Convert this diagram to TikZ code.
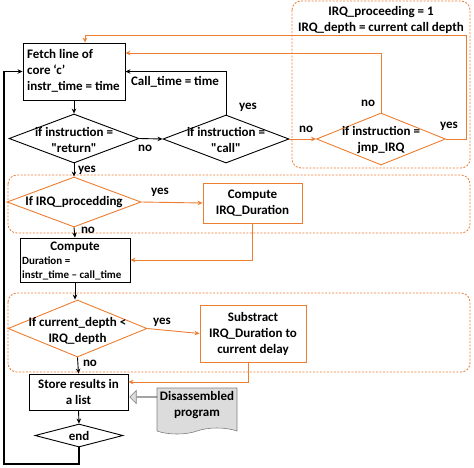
\documentclass[tikz,border=0pt]{standalone}
\usepackage{fontspec}
\setmainfont{Carlito}[Ligatures=TeXOff]
\usetikzlibrary{shapes.geometric,shapes.symbols,shapes.arrows,arrows.meta}
\definecolor{org}{RGB}{237,125,49}
\definecolor{docgray}{RGB}{220,220,220}
\begin{document}
\begin{tikzpicture}[x=1pt,y=-1pt,
  font=\bfseries\fontsize{13}{16}\selectfont,
  box/.style={draw=black, line width=0.9pt, rectangle, inner sep=0pt},
  obox/.style={draw=org, line width=0.9pt, rectangle, inner sep=0pt},
  dia/.style={draw=black, line width=0.9pt, diamond, inner sep=0pt},
  odia/.style={draw=org, line width=0.9pt, diamond, inner sep=0pt},
  txt/.style={align=center, inner sep=0pt},
  lbl/.style={inner sep=0pt},
  blkarr/.style={draw=black, line width=0.9pt, -{Stealth[length=5pt,width=4.5pt]}},
  orgarr/.style={draw=org, line width=0.9pt, -{Stealth[length=5pt,width=4.5pt]}},
  dbox/.style={draw=org, line width=0.8pt, dash pattern=on 2pt off 1.5pt, rounded corners=9pt}]
\useasboundingbox (0,0) rectangle (474,467);

% dashed group boxes
\draw[dbox] (292,1) rectangle (470,168);
\draw[dbox] (8,175) rectangle (470,233);
\draw[dbox] (8,293) rectangle (470,372);

\node[txt] (irqset) at (381,20) {IRQ\_proceeding = 1\\IRQ\_depth = current call depth};

% nodes
\node[box, minimum width=102pt, minimum height=57pt] (fetch) at (74,71.5) {};
\node[anchor=west, align=left, inner sep=0pt] (fetcht) at (27,71) {Fetch line of\\core ‘c’\\instr\_time = time};

\node[dia, minimum width=130pt, minimum height=49pt] (ret) at (74,138.5) {};
\node[txt] (rett) at (74,140) {if instruction =\\"return"};

\node[dia, minimum width=126pt, minimum height=48pt] (call) at (226,139) {};
\node[txt] (callt) at (226,140) {if instruction =\\"call"};

\node[odia, minimum width=129pt, minimum height=52pt] (jmp) at (381,139) {};
\node[txt] (jmpt) at (381,140) {if instruction =\\jmp\_IRQ};

\node[odia, minimum width=134pt, minimum height=50pt] (irqd) at (74,202) {};
\node[txt] (irqdt) at (74,202) {If IRQ\_procedding};

\node[obox, minimum width=99pt, minimum height=40pt] (cirq) at (252.5,203) {};
\node[txt] (cirqt) at (252.5,203) {Compute\\IRQ\_Duration};

\node[box, minimum width=110pt, minimum height=44pt] (comp) at (75,260) {};
\node[lbl] (compt) at (75,247) {Compute};
\node[anchor=west, align=left, inner sep=0pt, font=\bfseries\fontsize{11}{14}\selectfont] (compd) at (22,268) {Duration =\\instr\_time – call\_time};

\node[odia, minimum width=139pt, minimum height=57pt] (cur) at (77.5,328.5) {};
\node[txt] (curt) at (77.5,331) {If current\_depth <\\IRQ\_depth};

\node[obox, minimum width=106pt, minimum height=57pt] (sub) at (253,333.5) {};
\node[txt] (subt) at (253,333.5) {Substract\\IRQ\_Duration to\\current delay};

\node[box, minimum width=99pt, minimum height=36pt] (store) at (78.5,392) {};
\node[txt] (storet) at (78.5,392) {Store results in\\a list};

\node[tape, tape bend top=none, tape bend height=6pt, draw=gray, fill=docgray, line width=0.6pt,
      minimum width=80pt, minimum height=46pt, inner sep=0pt] (doc) at (197,408) {};
\node[txt] (doct) at (197,405) {Disassembled\\program};

\node[single arrow, draw=gray, fill=docgray, line width=0.6pt, shape border rotate=180,
      minimum height=27pt, minimum width=13pt, single arrow head extend=3pt,
      single arrow head indent=0pt, inner sep=0pt] (barr) at (143.5,397) {};

\node[dia, minimum width=88pt, minimum height=23pt] (endd) at (79,435.5) {};
\node[txt] (endt) at (79,435.5) {end};

% coordinates
\coordinate (j1) at (381,53);
\coordinate (y1) at (466,35);
\coordinate (y2) at (85,35);
\coordinate (lp1) at (79,464);
\coordinate (lp2) at (4,464);

% connectors
\draw[blkarr] (fetch.south) -- (ret.north);
\draw[blkarr] (ret.east) -- (call.west);
\draw[blkarr] (call.north) |- (fetch.east);
\draw[orgarr] (call.east) -- (jmp.west);
\draw[orgarr] (jmp.north) -- (j1) -- (fetch.east |- j1);
\draw[orgarr] (jmp.east) -| (y1) -- (y2) -- ([xshift=11pt]fetch.north);
\draw[blkarr] (ret.south) -- (irqd.north);
\draw[orgarr] (irqd.east) -- (cirq.west);
\draw[blkarr] (irqd.south) -- (comp.north);
\draw[orgarr] (cirq.south) |- (comp.east);
\draw[blkarr] (comp.south) -- (cur.north -| comp.south);
\draw[orgarr] (cur.east) -- (sub.west);
\draw[blkarr] (cur.south) -- (store.north);
\draw[orgarr] ([xshift=-5pt]sub.south) |- ([yshift=10pt]store.east);
\draw[blkarr] (store.south) -- (endd.north);
\draw[blkarr, line width=1.3pt] (endd.south) -- (lp1) -- (lp2) |- (fetch.west);

% labels
\node[lbl] (lno1) at (145,148) {no};
\node[lbl] (lcall) at (175,82) {Call\_time = time};
\node[lbl] (lyes1) at (248,107) {yes};
\node[lbl] (lno2) at (306,129) {no};
\node[lbl] (lno3) at (368,103) {no};
\node[lbl] (lyes2) at (449,126) {yes};
\node[lbl] (lyes3) at (87,170) {yes};
\node[lbl] (lyes4) at (160,192) {yes};
\node[lbl] (lno4) at (88,230) {no};
\node[lbl] (lyes5) at (162,322) {yes};
\node[lbl] (lno5) at (90,363) {no};
\end{tikzpicture}
\end{document}
